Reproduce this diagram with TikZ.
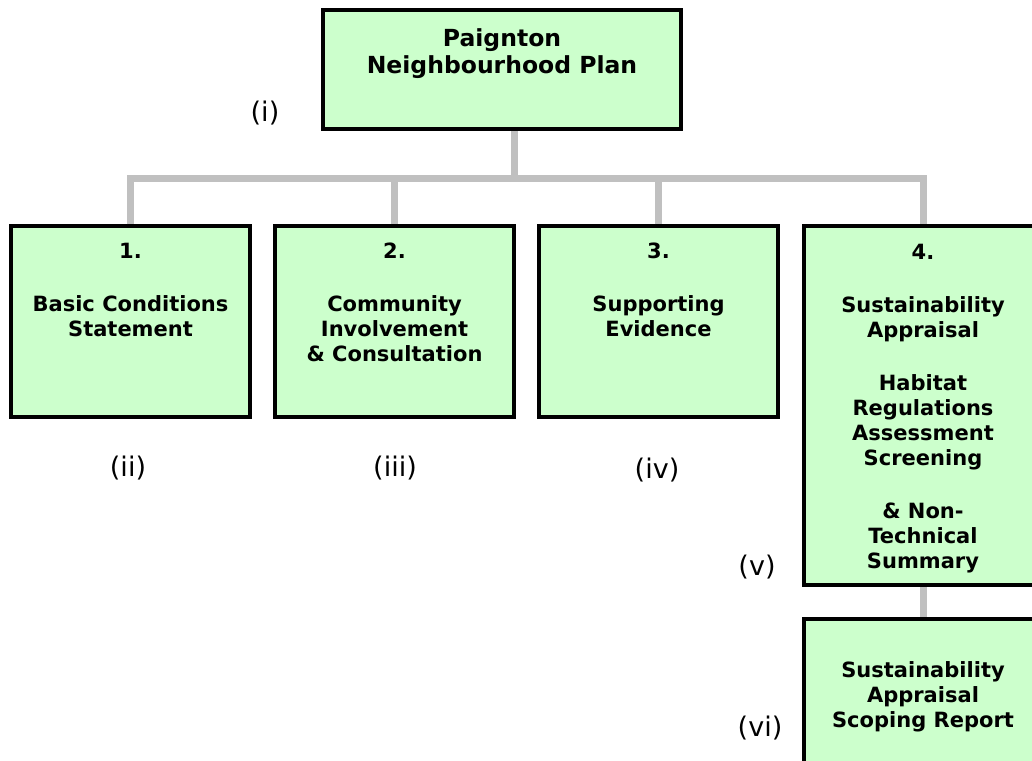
\documentclass[tikz,border=0pt]{standalone}
\usepackage{fontspec}
\setmainfont{DejaVu Sans}
\definecolor{boxfill}{HTML}{CCFFCC}
\definecolor{conngray}{HTML}{C0C0C0}
\begin{document}
\begin{tikzpicture}[x=1pt,y=-1pt,
  box/.style={draw=black, line width=4pt, fill=boxfill, inner sep=0pt, minimum width=239pt, minimum height=191pt},
  conn/.style={draw=conngray, line width=7pt},
  txt/.style={font=\bfseries\fontsize{21}{25}\selectfont, align=center, inner sep=0pt, anchor=base},
  lbl/.style={font=\fontsize{27}{32}\selectfont, inner sep=0pt, anchor=base}]
\clip (0,0) rectangle (1032,760);
\fill[white] (0,0) rectangle (1032,760);
% boxes
\coordinate (bar) at (514,178.5);
\node[box, minimum width=358pt, minimum height=119pt] (top) at (502,69.5) {};
\node[box] (b1) at (130.5,321.5) {};
\node[box] (b2) at (394.5,321.5) {};
\node[box] (b3) at (658.5,321.5) {};
\node[box, minimum height=359pt] (b4) at (923,405.5) {};
\node[box] (b5) at (923,714.5) {};
% connectors
\draw[conn] ([xshift=12pt]top.south) -- (bar);
\draw[conn] (b1.north) |- (bar) -| (b4.north);
\draw[conn] (b2.north) -- (b2.north |- bar);
\draw[conn] (b3.north) -- (b3.north |- bar);
\draw[conn] (b4.south) -- (b5.north);
% texts (anchored at the baseline of the last line)
\node[txt, font=\bfseries\fontsize{23.5}{27}\selectfont] (ttop) at (502,73) {Paignton\\Neighbourhood Plan};
\node[txt] (t1) at (130.5,336) {1.\\[28pt]Basic Conditions\\Statement};
\node[txt] (t2) at (394.5,361) {2.\\[28pt]Community\\Involvement\\\& Consultation};
\node[txt] (t3) at (658.5,336) {3.\\[28pt]Supporting\\Evidence};
\node[txt] (t4) at (923,568) {4.\\[28pt]Sustainability\\Appraisal\\[28pt]Habitat\\Regulations\\Assessment\\Screening\\[28pt]\& Non-\\Technical\\Summary};
\node[txt] (t5) at (923,727) {Sustainability\\Appraisal\\Scoping Report};
% labels
\node[lbl] (l1) at (265,121) {(i)};
\node[lbl] (l2) at (128,476) {(ii)};
\node[lbl] (l3) at (395,476) {(iii)};
\node[lbl] (l4) at (657,478) {(iv)};
\node[lbl] (l5) at (757,575) {(v)};
\node[lbl] (l6) at (760,736) {(vi)};
\end{tikzpicture}
\end{document}
